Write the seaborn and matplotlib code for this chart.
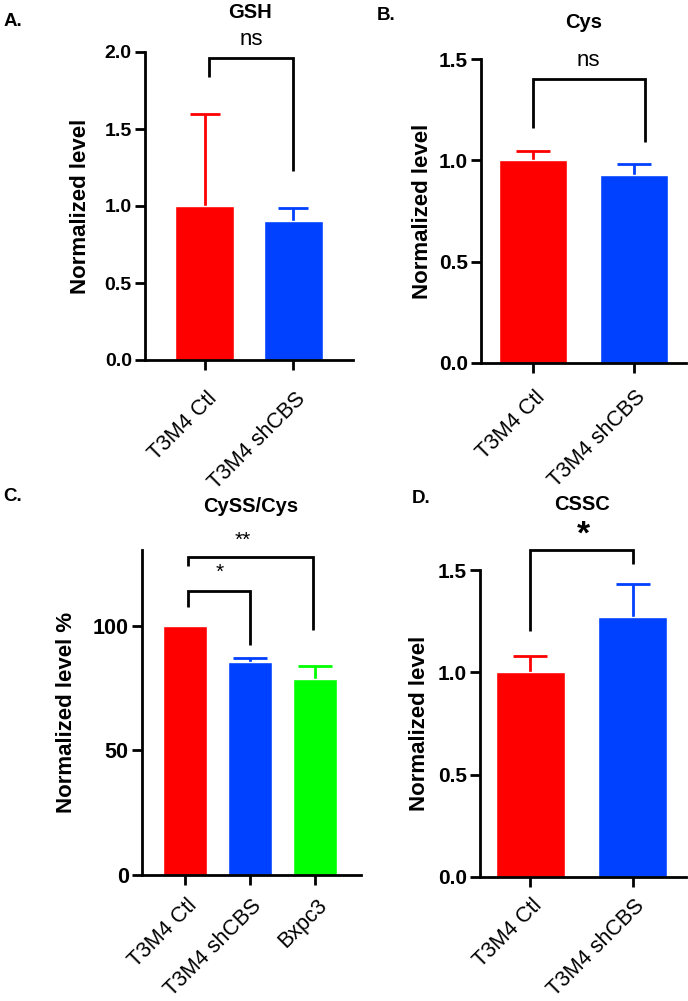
import numpy as np
import matplotlib
matplotlib.use('Agg')
import matplotlib.pyplot as plt
import matplotlib.transforms as mtransforms
from matplotlib.ticker import FormatStrFormatter
import seaborn as sns

sns.set_style('ticks')
plt.rcParams['font.family'] = ['Liberation Sans', 'DejaVu Sans']
for k in ['text.color', 'axes.edgecolor', 'axes.labelcolor',
          'xtick.color', 'ytick.color']:
    plt.rcParams[k] = 'black'

# ---- data ----
groups2 = ['T3M4 Ctl', 'T3M4 shCBS']
groups3 = ['T3M4 Ctl', 'T3M4 shCBS', 'Bxpc3']
red, blue, green = '#FF0000', '#0040FF', '#00FF00'

gsh_mean = [1.00, 0.90]
gsh_err = [0.60, 0.09]

cys_mean = [1.00, 0.93]
cys_err = [0.045, 0.05]

cyss_mean = [100.0, 85.5, 78.7]
cyss_err = [0.0, 1.5, 5.3]

cssc_mean = [1.00, 1.27]
cssc_err = [0.08, 0.16]

W, H = 688, 1001
fig = plt.figure(figsize=(W / 100, H / 100), dpi=100)


def box(l, t, r, b):
    return [l / W, 1 - b / H, (r - l) / W, (b - t) / H]


def ftext(x, y, s, **kw):
    fig.text(x / W, 1 - y / H, s, ha='center', va='center', **kw)


def panel(rect, groups, means, errs, colors, xlim, ylim, yticks, fmt,
          ylabel, ylab_x, tick_fs, label_pad, cap, brackets):
    ax = fig.add_axes(box(*rect))
    sns.barplot(x=groups, y=means, hue=groups, palette=colors, width=0.67,
                saturation=1, errorbar=None, legend=False, ax=ax, zorder=2)
    # upper-only error bars (SD), same colour as the bar
    for i, (m, e, c) in enumerate(zip(means, errs, colors)):
        eb = ax.errorbar(i, m, yerr=[[0], [e]], fmt='none', ecolor=c,
                         elinewidth=2, capsize=cap, capthick=2, zorder=1)
        for cl in eb.lines[1]:
            if np.allclose(cl.get_ydata(), m):
                cl.set_visible(False)
    ax.set_xlim(*xlim)
    ax.set_ylim(*ylim)
    ax.set_yticks(yticks)
    if fmt:
        ax.yaxis.set_major_formatter(FormatStrFormatter(fmt))
    sns.despine(ax=ax)
    for s in ['left', 'bottom']:
        ax.spines[s].set_linewidth(2)
    ax.tick_params(axis='both', length=7.5, width=2, direction='out')
    ax.tick_params(axis='y', labelsize=tick_fs, pad=2)
    ax.tick_params(axis='x', labelsize=15.5, pad=label_pad)
    for lab in ax.get_yticklabels():
        lab.set_fontweight('bold')
    off = mtransforms.ScaledTranslation(1 / 72, 0, fig.dpi_scale_trans)
    for lab in ax.get_xticklabels():
        lab.set_rotation(45)
        lab.set_ha('right')
        lab.set_va('top')
        lab.set_rotation_mode('anchor')
        lab.set_transform(lab.get_transform() + off)
    ax.set_xlabel('')
    ax.set_ylabel(ylabel, fontsize=16, fontweight='bold')
    ax.yaxis.set_label_coords(ylab_x, 0.5)
    for x0, x1, yl, top, yr, txt, tx, ty, tfs, tw in brackets:
        ax.plot([x0, x0, x1, x1], [yl, top, top, yr], color='black', lw=2,
                clip_on=False, solid_joinstyle='miter', solid_capstyle='butt')
        ax.text(tx, ty, txt, ha='center', va='center', fontsize=tfs,
                fontweight=tw, clip_on=False)
    return ax


# A. GSH
panel((145, 52, 353, 360), groups2, gsh_mean, gsh_err, [red, blue],
      (-0.68, 1.68), (0, 2.0), [0, 0.5, 1.0, 1.5, 2.0], '%.1f',
      'Normalized level', -0.26, 14, 13, 10.5,
      [(0.05, 1.0, 1.84, 1.96, 1.23, 'ns', 0.53, 2.08, 16, 'normal')])

# B. Cys
panel((481, 59, 686, 363), groups2, cys_mean, cys_err, [red, blue],
      (-0.515, 1.515), (0, 1.5), [0, 0.5, 1.0, 1.5], '%.1f',
      'Normalized level', -0.235, 15, 9.5, 11.9,
      [(0.0, 1.11, 1.16, 1.40, 1.09, 'ns', 0.545, 1.495, 16, 'normal')])

# C. CySS/Cys
panel((142, 550, 361, 875), groups3, cyss_mean, cyss_err, [red, blue, green],
      (-0.66, 2.71), (0, 130.5), [0, 50, 100], None,
      'Normalized level %', -0.295, 15.5, 7, 11.9,
      [(0.05, 1.0, 107.6, 114, 92.3, '*', 0.54, 121.5, 15, 'normal'),
       (0.05, 1.97, 124, 127.7, 98.4, '**', 0.89, 134.3, 15, 'normal')])

# D. CSSC
panel((480, 570, 686, 877), groups2, cssc_mean, cssc_err, [red, blue],
      (-0.49, 1.52), (0, 1.5), [0, 0.5, 1.0, 1.5], '%.1f',
      'Normalized level', -0.245, 15, 5.5, 11.9,
      [(0.0, 1.0, 1.20, 1.60, 1.53, '*', 0.52, 1.67, 24, 'bold')])

# titles and panel letters
ftext(250, 12, 'GSH', fontsize=14.5, fontweight='bold')
ftext(584, 22, 'Cys', fontsize=14.5, fontweight='bold')
ftext(251, 506, 'CySS/Cys', fontsize=14.5, fontweight='bold')
ftext(582, 504, 'CSSC', fontsize=14.5, fontweight='bold')
ftext(13, 21, 'A.', fontsize=13.5, fontweight='bold')
ftext(386, 15, 'B.', fontsize=13.5, fontweight='bold')
ftext(13, 497, 'C.', fontsize=13.5, fontweight='bold')
ftext(421, 498, 'D.', fontsize=13.5, fontweight='bold')

plt.savefig('out.png', dpi=100)
